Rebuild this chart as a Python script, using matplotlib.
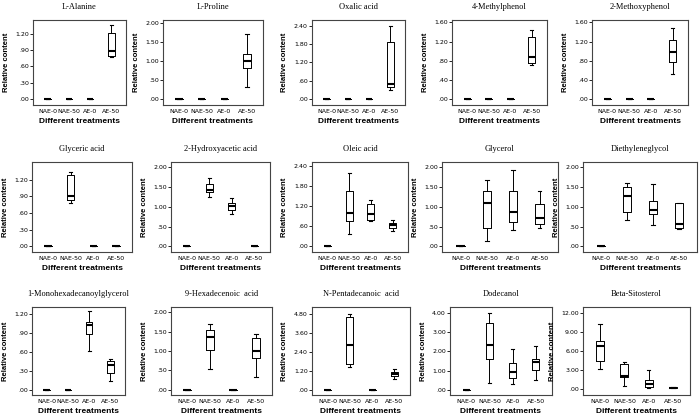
import numpy as np
import matplotlib.pyplot as plt
from matplotlib.ticker import FuncFormatter

# groupes de traitement
groups = ["NAE-0", "NAE-50", "AE-0", "AE-50"]

# chaque groupe : moustache basse, Q1, médiane, Q3, moustache haute
zero = [0, 0, 0, 0, 0]
l_alanine = [zero, zero, zero, [0.78, 0.79, 0.89, 1.21, 1.35]]
l_proline = [zero, zero, zero, [0.32, 0.81, 0.99, 1.19, 1.70]]
oxalic = [zero, zero, zero, [0.30, 0.40, 0.48, 1.87, 2.40]]
methylphenol = [zero, zero, zero, [0.71, 0.75, 0.87, 1.29, 1.45]]
methoxyphenol = [zero, zero, zero, [0.53, 0.77, 0.99, 1.24, 1.48]]
glyceric = [zero, [0.78, 0.83, 0.90, 1.28, 1.34], zero, zero]
hydroxyacetic = [zero, [1.24, 1.37, 1.43, 1.58, 1.72], [0.81, 0.92, 1.02, 1.10, 1.22], zero]
oleic = [zero, [0.34, 0.73, 0.99, 1.65, 2.17], [0.73, 0.76, 0.94, 1.25, 1.37], [0.45, 0.53, 0.61, 0.67, 0.77]]
glycerol = [zero, [0.15, 0.46, 1.09, 1.41, 1.68], [0.42, 0.61, 0.87, 1.41, 1.93], [0.46, 0.57, 0.72, 1.06, 1.41]]
diethyleneglycol = [zero, [0.66, 0.88, 1.27, 1.50, 1.61], [0.55, 0.81, 0.91, 1.14, 1.58], [0.45, 0.47, 0.57, 1.09, 1.09]]
monohexadecanoyl = [zero, zero, [0.62, 0.89, 1.03, 1.08, 1.24], [0.14, 0.26, 0.39, 0.46, 0.49]]
hexadecenoic = [zero, [0.53, 1.03, 1.37, 1.55, 1.70], zero, [0.34, 0.83, 1.01, 1.33, 1.43]]
pentadecanoic = [zero, [1.49, 1.66, 2.89, 4.63, 4.80], zero, [0.71, 0.92, 1.05, 1.17, 1.32]]
dodecanol = [zero, [0.34, 1.62, 2.33, 3.44, 4.00], [0.31, 0.63, 0.94, 1.41, 2.13], [0.51, 1.02, 1.45, 1.58, 2.26]]
sitosterol = [[3.21, 4.40, 6.72, 7.50, 10.19], [0.47, 1.91, 2.07, 3.88, 4.24], [0.10, 0.26, 0.78, 1.50, 2.95], [0.10, 0.15, 0.20, 0.25, 0.30]]

panels = [l_alanine, l_proline, oxalic, methylphenol, methoxyphenol,
          glyceric, hydroxyacetic, oleic, glycerol, diethyleneglycol,
          monohexadecanoyl, hexadecenoic, pentadecanoic, dodecanol, sitosterol]
titles = ["L-Alanine", "L-Proline", "Oxalic acid", "4-Methylphenol", "2-Methoxyphenol",
          "Glyceric acid", "2-Hydroxyacetic acid", "Oleic acid", "Glycerol", "Diethyleneglycol",
          "1-Monohexadecanoylglycerol", "9-Hexadecenoic  acid", "N-Pentadecanoic  acid",
          "Dodecanol", "Beta-Sitosterol"]
tick_step = [0.3, 0.5, 0.6, 0.4, 0.4,
             0.3, 0.5, 0.6, 0.5, 0.5,
             0.3, 0.5, 1.2, 1.0, 3.0]

# limites des axes y (marges à la SPSS)
ylims = [(-0.11, 1.45), (-0.15, 2.07), (-0.19, 2.58), (-0.12, 1.65), (-0.12, 1.65),
         (-0.10, 1.52), (-0.14, 2.13), (-0.19, 2.51), (-0.14, 2.13), (-0.14, 2.13),
         (-0.08, 1.31), (-0.13, 2.13), (-0.29, 5.26), (-0.26, 4.29), (-0.93, 12.88)]

# position des cadres en pixels (haut, bas) et (gauche, droite)
W, H = 700, 419
rows_px = [(20, 105), (162, 252), (307, 395)]
cols_px = [[(33, 126), (163, 263), (312, 405), (452, 547), (592, 688)],
           [(32, 132), (171, 270), (312, 408), (442, 558), (583, 697)],
           [(32, 125), (171, 272), (312, 410), (450, 552), (583, 690)]]


def fmt(v, pos):
    """Format SPSS : .00, .30, 1.20"""
    s = "%.2f" % v
    if s.startswith("0"):
        s = s[1:]
    return s


fig = plt.figure(figsize=(7, 4.19), dpi=100)

for i, data in enumerate(panels):
    r, c = divmod(i, 5)
    top, bot = rows_px[r]
    left, right = cols_px[r][c]
    ax = fig.add_axes([left / W, 1 - bot / H, (right - left) / W, (bot - top) / H])

    stats = []
    for g, (lo, q1, med, q3, hi) in zip(groups, data):
        stats.append(dict(label=g, whislo=lo, q1=q1, med=med, q3=q3, whishi=hi, fliers=[]))
    ax.bxp(stats, positions=np.arange(1, 5), widths=0.32, capwidths=0.14,
           boxprops=dict(color="black", linewidth=0.7),
           whiskerprops=dict(color="black", linewidth=0.7),
           capprops=dict(color="black", linewidth=0.8),
           medianprops=dict(color="black", linewidth=1.5),
           showfliers=False)

    ax.set_xlim(0.3, 4.7)
    ax.set_ylim(*ylims[i])
    ax.set_yticks(np.arange(5) * tick_step[i])
    ax.yaxis.set_major_formatter(FuncFormatter(fmt))
    ax.tick_params(axis="y", labelsize=4.5, length=2, width=0.6, pad=1)
    ax.tick_params(axis="x", labelsize=4.5, length=0, pad=3)
    for s in ax.spines.values():
        s.set_linewidth(0.8)
        s.set_color("#444444")

    ax.set_title(titles[i], fontsize=6, family="Liberation Serif", pad=8)
    ax.set_ylabel("Relative content", fontsize=5.5, fontweight="bold",
                  family="Liberation Sans", labelpad=4)
    ax.set_xlabel("Different treatments", fontsize=6, fontweight="bold",
                  family="Liberation Sans", labelpad=3)

fig.savefig("out.png", dpi=100)
